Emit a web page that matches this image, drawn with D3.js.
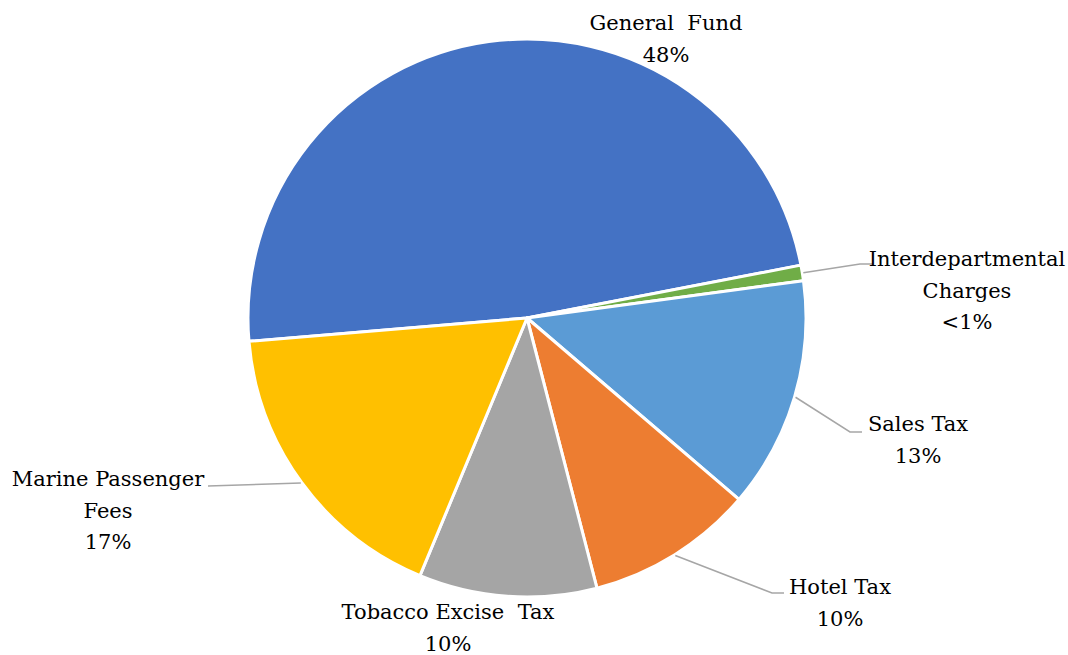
<!DOCTYPE html>
<html>
<head>
<meta charset="utf-8">
<script src="https://cdn.jsdelivr.net/npm/d3@7"></script>
<style>
  html, body { margin: 0; padding: 0; background: #fff; }
  svg { display: block; }
</style>
</head>
<body>
<div id="chart"></div>
<script>
// Funding sources, share of total (percent)
const categories = ["General Fund", "Interdepartmental Charges", "Sales Tax", "Hotel Tax", "Tobacco Excise Tax", "Marine Passenger Fees"];
const shares = [48.3, 0.9, 13.4, 9.7, 10.3, 17.4];
const colors = ["#4472C4", "#70AD47", "#5B9BD5", "#ED7D31", "#A5A5A5", "#FFC000"];

const width = 1068, height = 655;
const cx = 527, cy = 318, radius = 279;
const startDeg = 265.2;
const serif = "'DejaVu Serif', serif";

const svg = d3.select("#chart").append("svg")
  .attr("width", width).attr("height", height);

const data = categories.map((c, i) => ({ name: c, value: shares[i], color: colors[i] }));

const pie = d3.pie().value(d => d.value).sort(null)
  .startAngle(startDeg * Math.PI / 180)
  .endAngle((startDeg + 360) * Math.PI / 180);
const arcs = pie(data);
const arc = d3.arc().innerRadius(0).outerRadius(radius);

const g = svg.append("g").attr("transform", `translate(${cx},${cy})`);
g.selectAll("path.slice").data(arcs).enter().append("path")
  .attr("class", "slice")
  .attr("d", arc)
  .attr("fill", d => d.data.color)
  .attr("stroke", "#fff")
  .attr("stroke-width", 3)
  .attr("stroke-linejoin", "round");

// Label text: percentage rounded, tiny shares shown as "<1%"
const pct = v => v < 1 ? "<1%" : Math.round(v) + "%";

// Label layout: centre x, first baseline, lines of the name, optional leader elbow
const layout = {
  "General Fund":              { x: 666, y: 30,  lines: ["General\u00a0 Fund"] },
  "Interdepartmental Charges": { x: 967, y: 266, lines: ["Interdepartmental", "Charges"], elbow: [860, 264], end: [872, 264] },
  "Sales Tax":                 { x: 918, y: 431, lines: ["Sales Tax"], elbow: [850, 432], end: [862, 432] },
  "Hotel Tax":                 { x: 840, y: 594, lines: ["Hotel Tax"], elbow: [772, 593], end: [784, 593] },
  "Tobacco Excise Tax":        { x: 448, y: 619, lines: ["Tobacco Excise\u00a0 Tax"] },
  "Marine Passenger Fees":     { x: 108, y: 486, lines: ["Marine Passenger", "Fees"], elbow: null, end: [208, 486] }
};

const lineH = 31.5;

arcs.forEach(a => {
  const L = layout[a.data.name];
  const mid = (a.startAngle + a.endAngle) / 2;
  if (L.end) {
    const sx = cx + (radius + 1) * Math.sin(mid);
    const sy = cy - (radius + 1) * Math.cos(mid);
    const pts = [[sx, sy]];
    if (L.elbow) pts.push(L.elbow);
    pts.push(L.end);
    svg.append("path")
      .attr("d", d3.line()(pts))
      .attr("fill", "none")
      .attr("stroke", "#A6A6A6")
      .attr("stroke-width", 1.5);
  }
  const t = svg.append("text")
    .attr("text-anchor", "middle")
    .attr("font-family", serif)
    .style("font-family", serif)
    .attr("fill", "#000")
    .attr("font-size", 21);
  const rows = L.lines.concat([pct(a.data.value)]);
  rows.forEach((r, i) => {
    t.append("tspan").attr("x", L.x).attr("y", L.y + i * lineH).text(r);
  });
});
</script>
</body>
</html>
